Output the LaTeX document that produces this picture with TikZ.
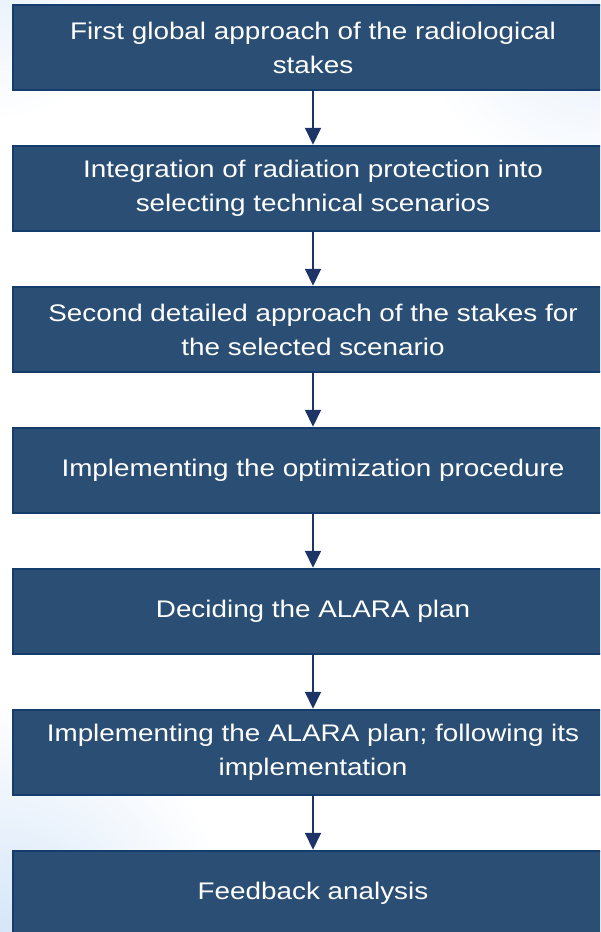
\documentclass[tikz,border=0pt]{standalone}
\usepackage{fontspec}
\setmainfont[FakeStretch=1.16]{Liberation Sans}
\usetikzlibrary{arrows.meta}

\definecolor{stepfill}{HTML}{2A4E74}
\definecolor{stepline}{HTML}{143C6C}
\definecolor{arrowblue}{HTML}{1D3566}
\definecolor{haze}{HTML}{D6E6F8}

\tikzset{
  stepbox/.style={draw=stepline,line width=2.5pt,fill=stepfill,text=white,
    minimum width=600pt,minimum height=85pt,inner sep=0pt,align=center,
    font=\fontsize{24}{34}\selectfont},
  flow/.style={draw=arrowblue,line width=2pt,-{Triangle[width=16pt,length=17pt]}}
}

\begin{document}
\begin{tikzpicture}[x=1pt,y=1pt]
  \useasboundingbox (0,0) rectangle (600,-932);
  \clip (0,0) rectangle (600,-932);
  % pale blue haze in the corners
  \shade[inner color=haze,outer color=white] (0,-932) circle (230);
  \shade[inner color=haze!70,outer color=white] (600,0) circle (190);
  \shade[inner color=haze!50,outer color=white] (0,0) circle (120);
  % the seven steps, top to bottom
  \node[stepbox] (s1) at (313,-47.5) {First global approach of the radiological\\stakes};
  \node[stepbox] (s2) at (313,-188.5) {Integration of radiation protection into\\selecting technical scenarios};
  \node[stepbox] (s3) at (313,-329.5) {Second detailed approach of the stakes for\\the selected scenario};
  \node[stepbox] (s4) at (313,-470.5) {Implementing the optimization procedure};
  \node[stepbox] (s5) at (313,-611.5) {Deciding the ALARA plan};
  \node[stepbox] (s6) at (313,-752.5) {Implementing the ALARA plan; following its\\implementation};
  \node[stepbox] (s7) at (313,-893.5) {Feedback analysis};
  % arrows between the steps
  \draw[flow] (s1) -- (s2);
  \draw[flow] (s2) -- (s3);
  \draw[flow] (s3) -- (s4);
  \draw[flow] (s4) -- (s5);
  \draw[flow] (s5) -- (s6);
  \draw[flow] (s6) -- (s7);
\end{tikzpicture}
\end{document}
